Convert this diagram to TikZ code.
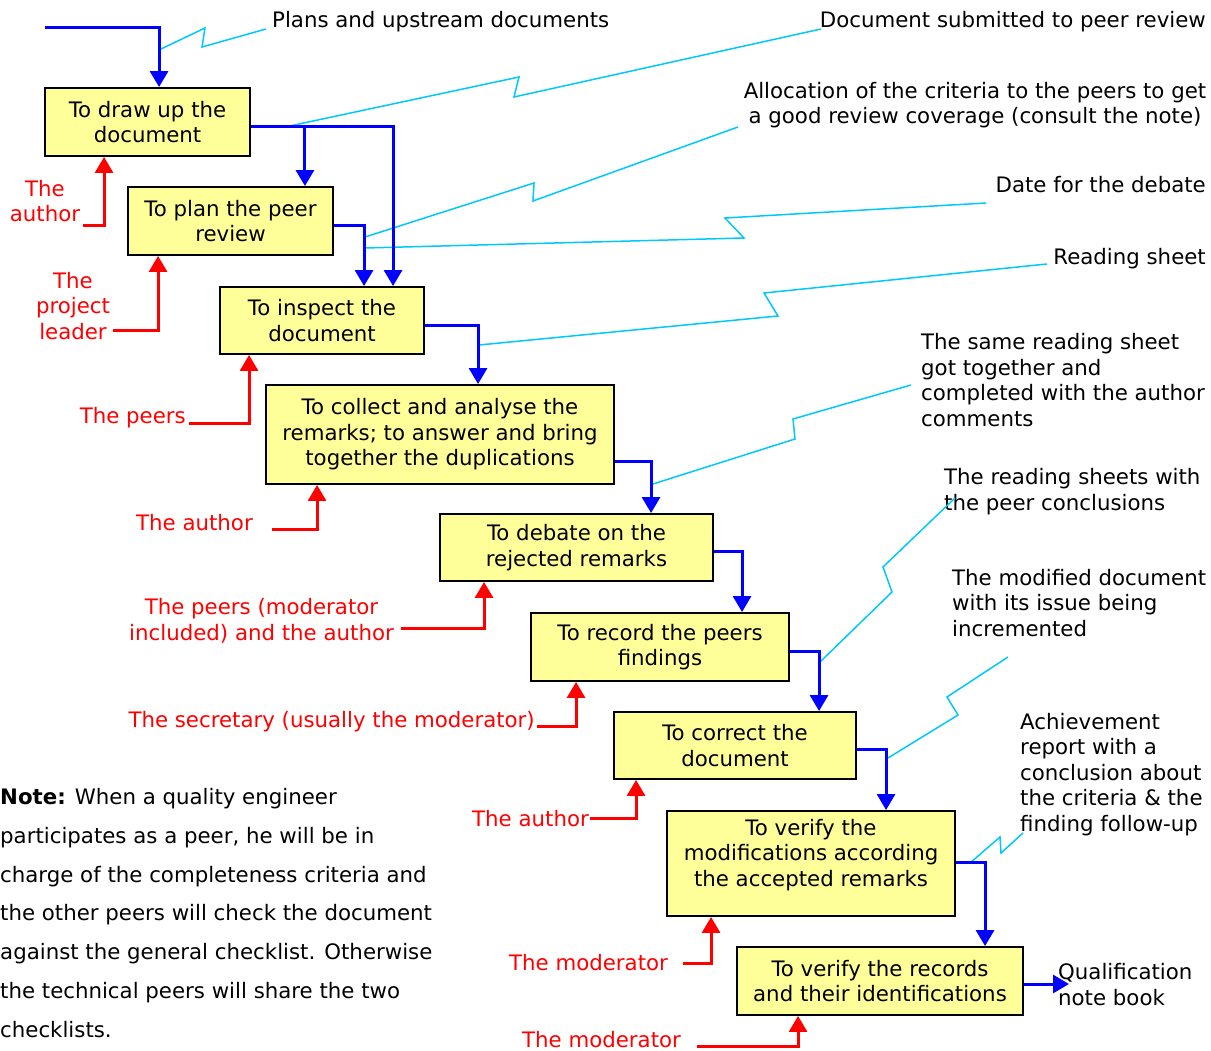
\documentclass[tikz,border=0pt]{standalone}
\usepackage{fontspec}
\setmainfont{DejaVu Sans}
\usetikzlibrary{arrows.meta,calc}
\definecolor{boxfill}{HTML}{FFFF99}
\definecolor{flowblue}{HTML}{0000FF}
\definecolor{rolered}{HTML}{FF0000}
\definecolor{notecyan}{HTML}{00C8FF}
\begin{document}
\begin{tikzpicture}[x=1pt,y=-1pt,
  every node/.style={font=\fontsize{21.3}{25.4}\selectfont, inner sep=0pt},
  box/.style={draw=black, line width=1.9pt, fill=boxfill, align=center},
  flow/.style={draw=flowblue, line width=3pt, -{Triangle[length=16pt,width=18pt]}},
  role/.style={draw=rolered, line width=3pt, -{Triangle[length=16pt,width=18pt]}},
  who/.style={text=rolered, align=center},
  what/.style={text=black},
  zig/.style={draw=notecyan, line width=1.5pt, line join=miter}]
\useasboundingbox (0,0) rectangle (1211,1051);

% activity boxes
\node[box, minimum width=205pt, minimum height=68pt]  (b1) at (147.5,122)  {To draw up the\\document};
\node[box, minimum width=205pt, minimum height=68pt]  (b2) at (230.5,221)  {To plan the peer\\review};
\node[box, minimum width=204pt, minimum height=67pt]  (b3) at (322,320.5)  {To inspect the\\document};
\node[box, minimum width=348pt, minimum height=99pt]  (b4) at (440,434.5)  {To collect and analyse the\\remarks; to answer and bring\\together the duplications};
\node[box, minimum width=273pt, minimum height=67pt]  (b5) at (576.5,547.5) {To debate on the\\rejected remarks};
\node[box, minimum width=258pt, minimum height=68pt]  (b6) at (660,647)    {To record the peers\\findings};
\node[box, minimum width=242pt, minimum height=67pt]  (b7) at (735,745.5)  {To correct the\\document};
\node[box, minimum width=288pt, minimum height=105pt] (b8) at (811,863.5)  {To verify the\\modifications according\\the accepted remarks\\[-4pt]\mbox{}};
\node[box, minimum width=286pt, minimum height=68pt]  (b9) at (880,981)    {To verify the records\\and their identifications};

% callout texts (documents produced)
\node[what, anchor=base west] (c1) at (272,28)   {Plans and upstream documents};
\node[what, anchor=base east] (c2) at (1206,28)  {Document submitted to peer review};
\node[what, anchor=base, align=center] (c3) at (975,124) {Allocation of the criteria to the peers to get\\a good review coverage (consult the note)};
\node[what, anchor=base east] (c4) at (1206,193) {Date for the debate};
\node[what, anchor=base east] (c5) at (1206,265) {Reading sheet};
\node[what, anchor=base west, align=left] (c6) at (921,426) {The same reading sheet\\got together and\\completed with the author\\comments};
\node[what, anchor=base west, align=left] (c7) at (944,510) {The reading sheets with\\the peer conclusions};
\node[what, anchor=base west, align=left] (c8) at (952,636) {The modified document\\with its issue being\\incremented};
\node[what, anchor=base west, align=left] (c9) at (1020,831) {Achievement\\report with a\\conclusion about\\the criteria \& the\\finding follow-up};
\node[what, anchor=base west, align=left] (c10) at (1058,1005) {Qualification\\note book};

% actors
\node[who, anchor=base] (w1) at (45,222)  {The\\author};
\node[who, anchor=base] (w2) at (73,339)  {The\\project\\leader};
\node[who, anchor=base east] (w3) at (186,423) {The peers};
\node[who, anchor=base west] (w4) at (136,530) {The author};
\node[who, anchor=base] (w5) at (261.5,640) {The peers (moderator\\included) and the author};
\node[who, anchor=base east] (w6) at (535,727) {The secretary (usually the moderator)};
\node[who, anchor=base east] (w7) at (589,826) {The author};
\node[who, anchor=base west] (w8) at (509,970) {The moderator};
\node[who, anchor=base west] (w9) at (522,1047) {The moderator};

% note
\node[anchor=base west, align=left, font=\fontsize{21.3}{38.7}\selectfont] (note) at (0,1037)
  {\textbf{Note:} When a quality engineer\\participates as a peer, he will be in\\charge of the completeness criteria and\\the other peers will check the document\\against the general checklist. Otherwise\\the technical peers will share the two\\checklists.};

% lightning callout leaders
\draw[zig] (161,49)  -- (205,28)  -- (202,47)  -- (266,29);
\draw[zig] (285,127) -- (519,77)  -- (514,97)  -- (821,29);
\draw[zig] (365,237) -- (534,183) -- (533,201) -- (738,127);
\draw[zig] (365,248) -- (744,238) -- (725,218) -- (986,203);
\draw[zig] (479,345) -- (778,316) -- (764,293) -- (1047,264);
\draw[zig] (653,484) -- (795,439) -- (793,419) -- (911,385);
\draw[zig] (820,662) -- (892,592) -- (883,567) -- (955,498);
\draw[zig] (888,758) -- (958,715) -- (947,697) -- (1008,657);
\draw[zig] (970,863) -- (1000,837) -- (1001,853) -- (1023,833);

% document flow
\coordinate (in) at (45,28);
\coordinate (out) at (1069,984);
\draw[flow] (in) -| ([xshift=115pt]b1.north west);
\draw[flow] ([yshift=-5pt]b1.east) -| ([xshift=174pt]b3.north west);
\coordinate (j1) at ([xshift=54pt,yshift=-5pt]b1.east);
\draw[flow] (j1) -- (j1 |- b2.north);
\draw[flow] ([yshift=-5pt]b2.east) -| ([xshift=145pt]b3.north west);
\draw[flow] ([yshift=-4.5pt]b3.east) -| ([xshift=213pt]b4.north west);
\draw[flow] ([yshift=-26.5pt]b4.east) -| ([xshift=212pt]b5.north west);
\draw[flow] ([yshift=-3.5pt]b5.east) -| ([xshift=212pt]b6.north west);
\draw[flow] ([yshift=-4pt]b6.east) -| ([xshift=206pt]b7.north west);
\draw[flow] ([yshift=-3.5pt]b7.east) -| ([xshift=220pt]b8.north west);
\draw[flow] ([yshift=1.5pt]b8.east) -| ([xshift=249pt]b9.north west);
\draw[flow] (b9.east |- out) -- (out);

% actors to activities
\coordinate (r1) at (83,226);
\coordinate (r2) at (113,330);
\coordinate (r3) at (189,423);
\coordinate (r4) at (272,529);
\coordinate (r5) at (401,628);
\coordinate (r6) at (537,726);
\coordinate (r7) at (590,818);
\coordinate (r8) at (683,963);
\coordinate (r9) at (697,1046);
\draw[role] (r1) -| ([xshift=60pt]b1.south west);
\draw[role] (r2) -| ([xshift=31pt]b2.south west);
\draw[role] (r3) -| ([xshift=30pt]b3.south west);
\draw[role] (r4) -| ([xshift=52pt]b4.south west);
\draw[role] (r5) -| ([xshift=45pt]b5.south west);
\draw[role] (r6) -| ([xshift=46pt]b6.south west);
\draw[role] (r7) -| ([xshift=23pt]b7.south west);
\draw[role] (r8) -| ([xshift=45pt]b8.south west);
\draw[role] (r9) -| ([xshift=62pt]b9.south west);
\end{tikzpicture}
\end{document}
